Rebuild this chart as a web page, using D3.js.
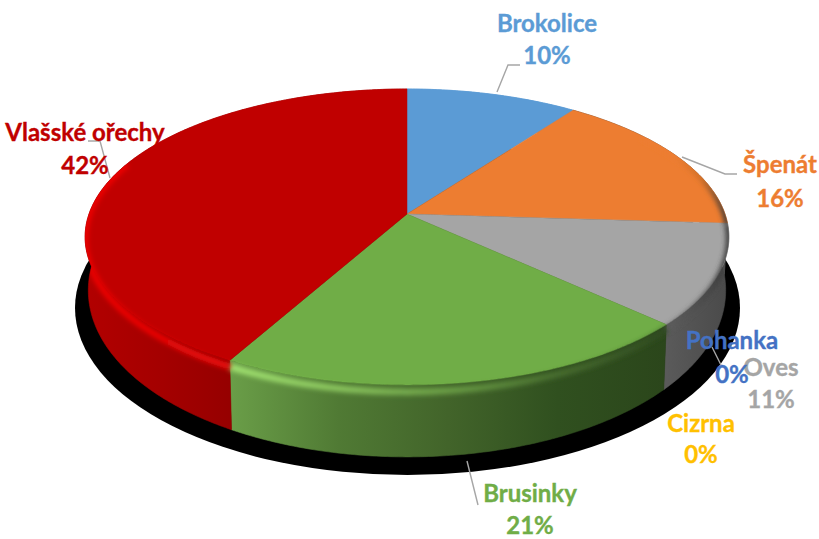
<!DOCTYPE html>
<html>
<head>
<meta charset="utf-8">
<script src="https://cdn.jsdelivr.net/npm/d3@7"></script>
<style>
  html, body { margin: 0; padding: 0; background: #fff; }
  svg { display: block; }
  text { font-family: Lato, "Open Sans", sans-serif; font-weight: 700; font-size: 24px; text-anchor: middle; stroke-width: 0.35px; }
</style>
</head>
<body>
<script>
// Share of each ingredient, clockwise from twelve o'clock
const categories = ["Brokolice", "Špenát", "Oves", "Cizrna", "Pohanka", "Brusinky", "Vlašské ořechy"];
const shares = [10, 16, 11, 0, 0, 21, 42];
const percentLabels = ["10%", "16%", "11%", "0%", "0%", "21%", "42%"];

// Colours for slices and their labels
const sliceColors = ["#5B9BD5", "#ED7D31", "#A5A5A5", "#FFC000", "#4472C4", "#70AD47", "#C00000"];
// Rim highlight and wall shade, from the left of each slice's run to the right
const rimRamps = [
  ["#5B9BD5", "#5B9BD5"], ["#ED7D31", "#d07028", "#3a3a3a"], ["#5e5e5e", "#4e4e4e", "#3a3a3a"], ["#FFC000", "#FFC000"],
  ["#4472C4", "#4472C4"], ["#a6e874", "#90cc62", "#6ea348", "#4a7030", "#2f4a20"], ["#f00505", "#ee0505", "#f41010"]
];
const wallRamps = [
  ["#5B9BD5", "#5B9BD5"], ["#5a4030", "#4a4a4a"], ["#5a5a5a", "#525252", "#4a4a4a"], ["#FFC000", "#FFC000"],
  ["#4472C4", "#4472C4"], ["#6a9e48", "#507a34", "#42642a", "#30501f", "#2b461b"], ["#b20000", "#a50000", "#960000"]
];

// Label placement: centre x, and baselines of the two text lines
const labelLayout = {
  "Brokolice": [547, 32, 64],
  "Špenát": [780, 173, 207],
  "Oves": [771, 376, 408],
  "Cizrna": [701, 432, 463],
  "Pohanka": [732, 349, 383],
  "Brusinky": [530, 502, 533.5],
  "Vlašské ořechy": [85, 141, 174]
};
// Leader lines running from the pie to a label
const leaderLines = [
  [[497, 92], [508, 65], [520, 65]],
  [[682, 157], [725, 174], [737, 174]],
  [[467, 461], [478, 505]],
  [[712, 347], [721, 365]],
  [[88, 141], [100, 141], [110, 178]]
];

const width = 819, height = 539;
const apex = { x: 407, y: 214 };
const semiX = 318, semiY = 144.4, tilt = -0.155, baseScale = 0.99;

// Perspective view of the circular pie: a point at an angle clockwise from north
function rimPoint(angle) {
  const u = Math.sin(angle), v = -Math.cos(angle), w = 1 + tilt * v;
  return [apex.x + semiX * u / w, apex.y + semiY * v / w];
}
// The wall is taller toward the viewer
const wallDepth = angle => 50 + 22 * (-Math.cos(angle));
function basePoint(angle) {
  const p = rimPoint(angle);
  return [apex.x + (p[0] - apex.x) * baseScale, p[1] + wallDepth(angle)];
}
const arcAngles = (a, b) => {
  const n = Math.max(2, Math.ceil((b - a) / 0.01));
  return d3.range(n + 1).map(i => a + (b - a) * i / n);
};

const pieLayout = d3.pie().value(d => d).sort(null)(shares);
const line = d3.line();

const svg = d3.select("body").append("svg").attr("width", width).attr("height", height);
const defs = svg.append("defs");
defs.append("filter").attr("id", "soft").attr("x", "-20%").attr("y", "-20%").attr("width", "140%").attr("height", "140%")
  .append("feGaussianBlur").attr("stdDeviation", 2.4);

pieLayout.forEach((d, i) => {
  // Each gradient spans the slice's own horizontal run along the near rim
  const xs = arcAngles(d.startAngle, d.endAngle).map(rimPoint).filter(p => p[1] > apex.y - 60).map(p => p[0]);
  const x0 = xs.length ? d3.min(xs) : 0, x1 = xs.length ? d3.max(xs) : width;
  [["wall", wallRamps[i]], ["rim", rimRamps[i]]].forEach(([kind, ramp]) => {
    const g = defs.append("linearGradient").attr("id", kind + i).attr("gradientUnits", "userSpaceOnUse")
      .attr("x1", x0).attr("x2", Math.max(x1, x0 + 1)).attr("y1", 0).attr("y2", 0);
    ramp.forEach((c, k) => g.append("stop").attr("offset", k / (ramp.length - 1)).attr("stop-color", c));
  });
});

// Hard black shadow under the pie
svg.append("ellipse").attr("cx", 407.5).attr("cy", 308).attr("rx", 332.5).attr("ry", 167).attr("fill", "#000");

// Outer wall of each slice
const walls = svg.append("g");
pieLayout.forEach((d, i) => {
  if (d.value === 0) return;
  const a = arcAngles(d.startAngle, d.endAngle);
  walls.append("path")
    .attr("d", line(a.map(rimPoint).concat(a.slice().reverse().map(basePoint))) + "Z")
    .attr("fill", `url(#wall${i})`)
    .attr("stroke", `url(#wall${i})`).attr("stroke-width", 0.6);
});

// Top face of each slice
const faces = svg.append("g");
pieLayout.forEach((d, i) => {
  if (d.value === 0) return;
  const pts = [[apex.x, apex.y]].concat(arcAngles(d.startAngle, d.endAngle).map(rimPoint));
  faces.append("path").attr("d", line(pts) + "Z").attr("fill", sliceColors[i])
    .attr("stroke", sliceColors[i]).attr("stroke-width", 0.5);
});

// Bevel along the near rim, kept within the pie's silhouette
const sil = defs.append("clipPath").attr("id", "silhouette");
sil.append("path").attr("d", line(arcAngles(0, 2 * Math.PI).map(rimPoint)) + "Z");
const halfTurn = arcAngles(Math.PI * 0.5, Math.PI * 1.5);
sil.append("path").attr("d", line(halfTurn.map(rimPoint).concat(halfTurn.slice().reverse().map(basePoint))) + "Z");

const rim = svg.append("g").attr("clip-path", "url(#silhouette)");
const nearStart = 0.3 * Math.PI, nearEnd = 1.62 * Math.PI;
pieLayout.forEach((d, i) => {
  if (d.value === 0) return;
  const a0 = Math.max(d.startAngle, nearStart), a1 = Math.min(d.endAngle, nearEnd);
  if (a1 <= a0) return;
  const pts = arcAngles(a0, a1).map(a => {
    const p = rimPoint(a);
    return [p[0], p[1] + 1 + 6 * Math.max(0, -Math.cos(a))];
  });
  rim.append("path").attr("d", line(pts)).attr("fill", "none")
    .attr("stroke", `url(#rim${i})`).attr("stroke-width", 6).attr("filter", "url(#soft)");
});

// Leader lines
svg.append("g").selectAll("path").data(leaderLines).join("path")
  .attr("d", d => line(d)).attr("fill", "none").attr("stroke", "#A6A6A6").attr("stroke-width", 1.4);

// Two-line labels; Pohanka sits on top of its neighbour
const order = categories.map((c, i) => i).sort((a, b) => (categories[a] === "Pohanka") - (categories[b] === "Pohanka"));
const labels = svg.append("g");
order.forEach(i => {
  const [x, y1, y2] = labelLayout[categories[i]];
  labels.append("text").attr("x", x).attr("y", y1).attr("fill", sliceColors[i]).attr("stroke", sliceColors[i]).text(categories[i]);
  labels.append("text").attr("x", x).attr("y", y2).attr("fill", sliceColors[i]).attr("stroke", sliceColors[i]).text(percentLabels[i]);
});
</script>
</body>
</html>
